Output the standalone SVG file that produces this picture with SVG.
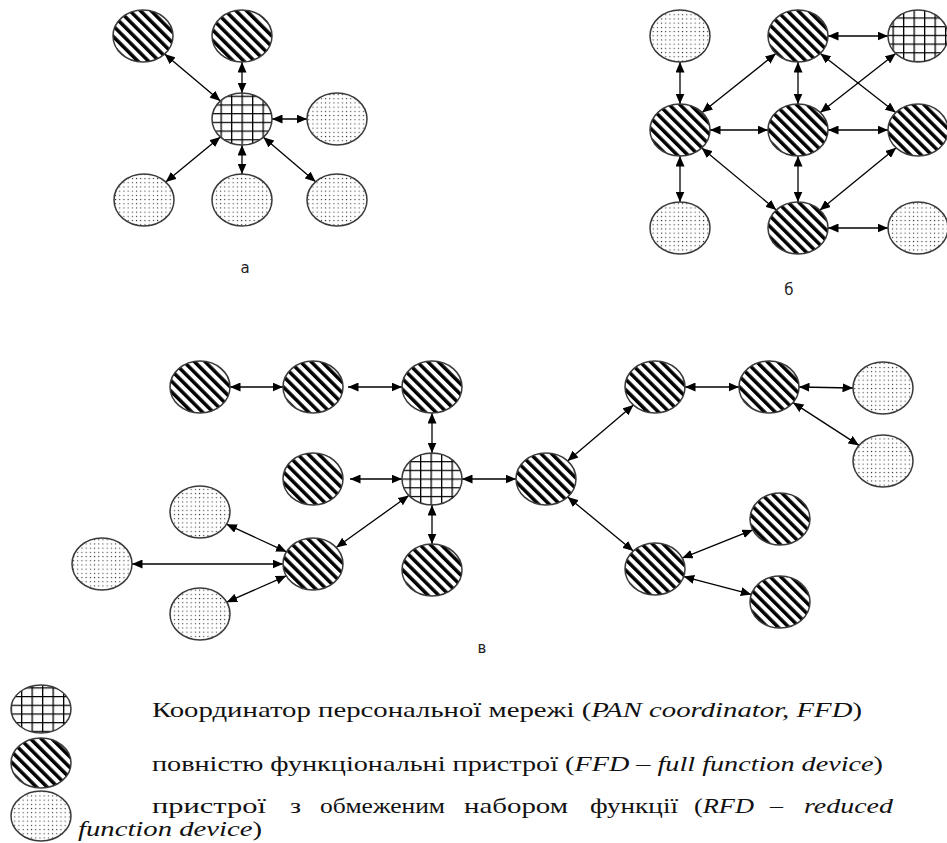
<svg xmlns="http://www.w3.org/2000/svg" width="947" height="843" viewBox="0 0 947 843">
  <style>
    .node { stroke: #3a3a3a; stroke-width: 1.5; }
    .ffd { fill: url(#hatch); }
    .pan { fill: url(#grid); }
    .rfd { fill: url(#dots); }
    .link { stroke: #000; stroke-width: 1.3; fill: none; marker-start: url(#arrow); marker-end: url(#arrow); }
    .cap { font-family: "DejaVu Sans", "Liberation Sans", sans-serif; font-size: 15px; fill: #222; text-anchor: middle; }
    .leg { font-family: "Liberation Serif", "Times New Roman", serif; font-size: 21px; fill: #111; }
    .it { font-style: italic; }
  </style>
  <defs>
    <!-- full function device: diagonal stripes -->
    <pattern id="hatch" width="7.5" height="7.5" patternUnits="userSpaceOnUse" patternTransform="rotate(-45)">
      <rect width="7.5" height="7.5" fill="#fff"/>
      <rect width="3.5" height="7.5" fill="#000"/>
    </pattern>
    <!-- PAN coordinator: square grid -->
    <pattern id="grid" width="10.5" height="8.7" patternUnits="userSpaceOnUse">
      <rect width="10.5" height="8.7" fill="#fff"/>
      <path d="M0,0.6 H10.5 M0.6,0 V8.7" stroke="#000" stroke-width="1.4"/>
    </pattern>
    <!-- reduced function device: fine dots -->
    <pattern id="dots" width="4.2" height="4.2" patternUnits="userSpaceOnUse">
      <rect width="4.2" height="4.2" fill="#fff"/>
      <rect x="1.6" y="1.6" width="1.1" height="1.1" fill="#333"/>
    </pattern>
    <marker id="arrow" markerUnits="userSpaceOnUse" markerWidth="11" markerHeight="9" refX="10.5" refY="4.5" orient="auto-start-reverse">
      <path d="M0,0 L10.5,4.5 L0,9 z" fill="#000"/>
    </marker>
  </defs>

  <!-- connectors -->
  <g id="connectors">
    <!-- star topology -->
    <line class="link" x1="164.6" y1="54.1" x2="220.4" y2="100.9"/>
    <line class="link" x1="242" y1="62" x2="242" y2="93"/>
    <line class="link" x1="272" y1="119" x2="307" y2="119"/>
    <line class="link" x1="220.3" y1="136.9" x2="165.7" y2="182.1"/>
    <line class="link" x1="242" y1="145" x2="242" y2="174"/>
    <line class="link" x1="263.4" y1="137.2" x2="315.6" y2="181.8"/>
    <!-- mesh topology -->
    <line class="link" x1="680" y1="62" x2="680" y2="104"/>
    <line class="link" x1="702.1" y1="112.4" x2="775.9" y2="53.6"/>
    <line class="link" x1="828" y1="36" x2="888" y2="36"/>
    <line class="link" x1="798" y1="62" x2="798" y2="104"/>
    <line class="link" x1="820.3" y1="53.4" x2="895.7" y2="112.6"/>
    <line class="link" x1="895.7" y1="53.4" x2="820.3" y2="112.6"/>
    <line class="link" x1="710" y1="130" x2="768" y2="130"/>
    <line class="link" x1="828" y1="130" x2="888" y2="130"/>
    <line class="link" x1="680" y1="156" x2="680" y2="202"/>
    <line class="link" x1="701.7" y1="148" x2="776.3" y2="210"/>
    <line class="link" x1="798" y1="156" x2="798" y2="202"/>
    <line class="link" x1="896.2" y1="147.8" x2="819.8" y2="210.2"/>
    <line class="link" x1="828" y1="228" x2="888" y2="228"/>
    <!-- cluster tree topology -->
    <line class="link" x1="230" y1="387" x2="283" y2="387"/>
    <line class="link" x1="348" y1="387" x2="402" y2="387"/>
    <line class="link" x1="432" y1="413" x2="432" y2="453"/>
    <line class="link" x1="350" y1="479" x2="402" y2="479"/>
    <line class="link" x1="432" y1="505" x2="432" y2="544"/>
    <line class="link" x1="462" y1="479" x2="516" y2="479"/>
    <line class="link" x1="408.8" y1="495.5" x2="336.2" y2="547.5"/>
    <line class="link" x1="286.5" y1="551.8" x2="226.5" y2="524.2"/>
    <line class="link" x1="283" y1="564" x2="132" y2="564"/>
    <line class="link" x1="286.3" y1="575.8" x2="226.7" y2="602.2"/>
    <line class="link" x1="567.5" y1="460.9" x2="633.5" y2="405.1"/>
    <line class="link" x1="685" y1="387" x2="739" y2="387"/>
    <line class="link" x1="799" y1="387" x2="853" y2="388"/>
    <line class="link" x1="793" y1="402.6" x2="859" y2="445.4"/>
    <line class="link" x1="567.7" y1="496.9" x2="633.3" y2="551.1"/>
    <line class="link" x1="682.2" y1="558.1" x2="752.8" y2="529.9"/>
    <line class="link" x1="683.7" y1="576.6" x2="751.3" y2="594.4"/>
  </g>

  <!-- star topology (а) -->
  <g id="a-ffd-1"><ellipse class="node ffd" cx="143" cy="36" rx="30" ry="26"/></g>
  <g id="a-ffd-2"><ellipse class="node ffd" cx="242" cy="36" rx="30" ry="26"/></g>
  <g id="a-pan"><ellipse class="node pan" cx="242" cy="119" rx="30" ry="26"/></g>
  <g id="a-rfd-1"><ellipse class="node rfd" cx="337" cy="119" rx="30" ry="26"/></g>
  <g id="a-rfd-2"><ellipse class="node rfd" cx="144" cy="200" rx="30" ry="26"/></g>
  <g id="a-rfd-3"><ellipse class="node rfd" cx="242" cy="200" rx="30" ry="26"/></g>
  <g id="a-rfd-4"><ellipse class="node rfd" cx="337" cy="200" rx="30" ry="26"/></g>
  <text class="cap" x="245" y="273">а</text>

  <!-- mesh topology (б) -->
  <g id="b-rfd-1"><ellipse class="node rfd" cx="680" cy="36" rx="30" ry="26"/></g>
  <g id="b-ffd-1"><ellipse class="node ffd" cx="798" cy="36" rx="30" ry="26"/></g>
  <g id="b-pan"><ellipse class="node pan" cx="918" cy="36" rx="30" ry="26"/></g>
  <g id="b-ffd-2"><ellipse class="node ffd" cx="680" cy="130" rx="30" ry="26"/></g>
  <g id="b-ffd-3"><ellipse class="node ffd" cx="798" cy="130" rx="30" ry="26"/></g>
  <g id="b-ffd-4"><ellipse class="node ffd" cx="918" cy="130" rx="30" ry="26"/></g>
  <g id="b-rfd-2"><ellipse class="node rfd" cx="680" cy="228" rx="30" ry="26"/></g>
  <g id="b-ffd-5"><ellipse class="node ffd" cx="798" cy="228" rx="30" ry="26"/></g>
  <g id="b-rfd-3"><ellipse class="node rfd" cx="918" cy="228" rx="30" ry="26"/></g>
  <text class="cap" x="789" y="295">б</text>

  <!-- cluster tree topology (в) -->
  <g id="c-ffd-1"><ellipse class="node ffd" cx="200" cy="387" rx="30" ry="26"/></g>
  <g id="c-ffd-2"><ellipse class="node ffd" cx="313" cy="387" rx="30" ry="26"/></g>
  <g id="c-ffd-3"><ellipse class="node ffd" cx="432" cy="387" rx="30" ry="26"/></g>
  <g id="c-pan"><ellipse class="node pan" cx="432" cy="479" rx="30" ry="26"/></g>
  <g id="c-ffd-4"><ellipse class="node ffd" cx="313" cy="479" rx="30" ry="26"/></g>
  <g id="c-rfd-1"><ellipse class="node rfd" cx="200" cy="512" rx="30" ry="26"/></g>
  <g id="c-rfd-2"><ellipse class="node rfd" cx="102" cy="564" rx="30" ry="26"/></g>
  <g id="c-ffd-5"><ellipse class="node ffd" cx="313" cy="564" rx="30" ry="26"/></g>
  <g id="c-rfd-3"><ellipse class="node rfd" cx="200" cy="614" rx="30" ry="26"/></g>
  <g id="c-ffd-6"><ellipse class="node ffd" cx="432" cy="570" rx="30" ry="26"/></g>
  <g id="c-ffd-7"><ellipse class="node ffd" cx="546" cy="479" rx="30" ry="26"/></g>
  <g id="c-ffd-8"><ellipse class="node ffd" cx="655" cy="387" rx="30" ry="26"/></g>
  <g id="c-ffd-9"><ellipse class="node ffd" cx="769" cy="387" rx="30" ry="26"/></g>
  <g id="c-rfd-4"><ellipse class="node rfd" cx="883" cy="388" rx="30" ry="26"/></g>
  <g id="c-rfd-5"><ellipse class="node rfd" cx="883" cy="461" rx="30" ry="26"/></g>
  <g id="c-ffd-10"><ellipse class="node ffd" cx="655" cy="569" rx="30" ry="26"/></g>
  <g id="c-ffd-11"><ellipse class="node ffd" cx="780" cy="519" rx="30" ry="26"/></g>
  <g id="c-ffd-12"><ellipse class="node ffd" cx="780" cy="602" rx="30" ry="26"/></g>
  <text class="cap" x="482" y="653">в</text>

  <!-- legend -->
  <g id="legend-pan">
    <ellipse class="node pan" cx="41" cy="709" rx="30" ry="24"/>
    <text class="leg" x="152" y="717" textLength="710" lengthAdjust="spacingAndGlyphs">Координатор персональної мережі (<tspan class="it">PAN coordinator, FFD</tspan>)</text>
  </g>
  <g id="legend-ffd">
    <ellipse class="node ffd" cx="41" cy="763" rx="30" ry="25"/>
    <text class="leg" x="152" y="771" textLength="731" lengthAdjust="spacingAndGlyphs">повністю функціональні пристрої (<tspan class="it">FFD – full function device</tspan>)</text>
  </g>
  <g id="legend-rfd">
    <ellipse class="node rfd" cx="41" cy="816" rx="30" ry="25"/>
    <text class="leg" x="152" y="813" textLength="114" lengthAdjust="spacingAndGlyphs">пристрої</text>
    <text class="leg" x="290" y="813" textLength="11" lengthAdjust="spacingAndGlyphs">з</text>
    <text class="leg" x="320" y="813" textLength="125" lengthAdjust="spacingAndGlyphs">обмеженим</text>
    <text class="leg" x="464" y="813" textLength="104" lengthAdjust="spacingAndGlyphs">набором</text>
    <text class="leg" x="590" y="813" textLength="88" lengthAdjust="spacingAndGlyphs">функції</text>
    <text class="leg" x="694" y="813" textLength="60" lengthAdjust="spacingAndGlyphs">(<tspan class="it">RFD</tspan></text>
    <text class="leg" x="770" y="813" textLength="13" lengthAdjust="spacingAndGlyphs">–</text>
    <text class="leg it" x="804" y="813" textLength="89" lengthAdjust="spacingAndGlyphs">reduced</text>
    <text class="leg" x="78" y="836" textLength="184" lengthAdjust="spacingAndGlyphs"><tspan class="it">function device</tspan>)</text>
  </g>
</svg>
